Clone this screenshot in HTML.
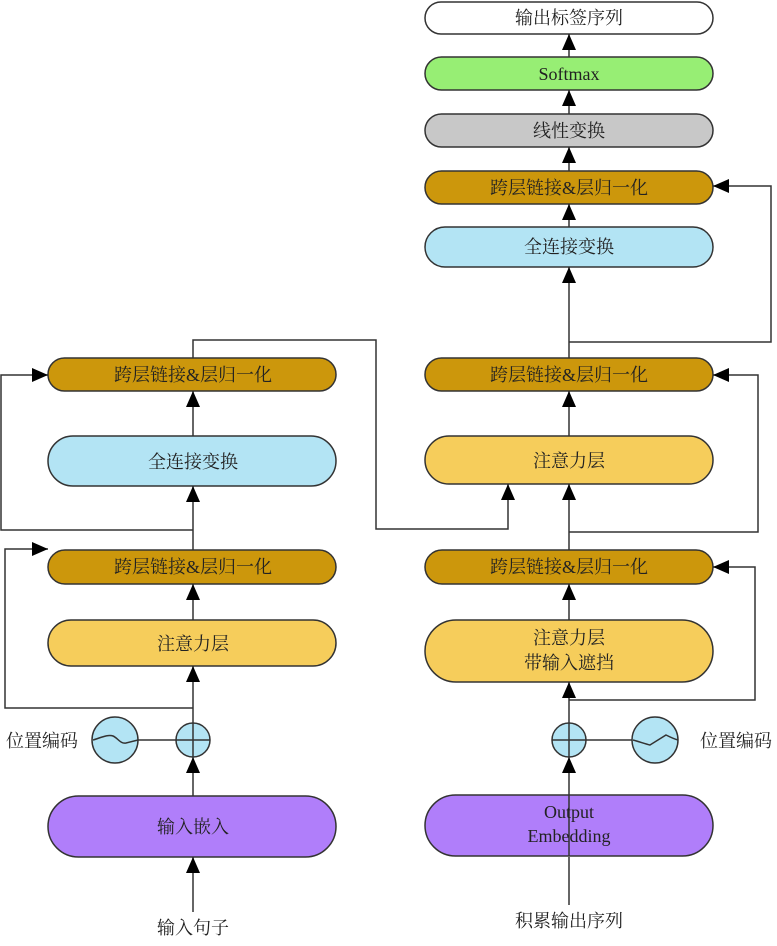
<!DOCTYPE html>
<html><head><meta charset="utf-8"><style>
html,body{margin:0;padding:0;background:#fff}
svg text{font-family:"Liberation Serif","Noto Serif CJK SC",serif;font-size:18px;fill:#222;text-anchor:middle;dominant-baseline:central}
</style></head><body>
<svg width="777" height="941" viewBox="0 0 777 941" xmlns="http://www.w3.org/2000/svg">
<defs>
<marker id="a" viewBox="0 0 16 14" refX="16" refY="7" markerWidth="16" markerHeight="14" markerUnits="userSpaceOnUse" orient="auto"><path d="M0,0L16,7L0,14Z" fill="#000"/></marker>
</defs>
<g stroke="#333" stroke-width="1.5">
<rect x="425" y="2" width="288" height="32" rx="16" fill="#fff"/>
<rect x="425" y="57" width="288" height="33" rx="16.5" fill="#97ee74"/>
<rect x="425" y="114" width="288" height="33" rx="16.5" fill="#c8c8c8"/>
<rect x="425" y="171" width="288" height="33" rx="16.5" fill="#cc970c"/>
<rect x="425" y="227" width="288" height="40" rx="20" fill="#b3e4f4"/>
<rect x="425" y="358" width="288" height="33" rx="16.5" fill="#cc970c"/>
<rect x="425" y="436" width="288" height="48" rx="24" fill="#f6cd5b"/>
<rect x="425" y="550" width="288" height="34" rx="17" fill="#cc970c"/>
<rect x="425" y="620" width="288" height="62" rx="31" fill="#f6cd5b"/>
<rect x="425" y="795" width="288" height="61" rx="30.5" fill="#b07efa"/>
<rect x="48" y="358" width="288" height="33" rx="16.5" fill="#cc970c"/>
<rect x="48" y="436" width="288" height="50" rx="25" fill="#b3e4f4"/>
<rect x="48" y="550" width="288" height="34" rx="17" fill="#cc970c"/>
<rect x="48" y="620" width="288" height="46" rx="23" fill="#f6cd5b"/>
<rect x="48" y="796" width="288" height="61" rx="30.5" fill="#b07efa"/>
</g>
<g stroke="#333" stroke-width="1.5" fill="none">
<line x1="569" y1="905" x2="569" y2="857"/>
<line x1="569" y1="856" x2="569" y2="757" marker-end="url(#a)"/>
<line x1="569" y1="724" x2="569" y2="682" marker-end="url(#a)"/>
<line x1="569" y1="620" x2="569" y2="584" marker-end="url(#a)"/>
<line x1="569" y1="550" x2="569" y2="484" marker-end="url(#a)"/>
<line x1="569" y1="436" x2="569" y2="391" marker-end="url(#a)"/>
<line x1="569" y1="358" x2="569" y2="267" marker-end="url(#a)"/>
<line x1="569" y1="227" x2="569" y2="204" marker-end="url(#a)"/>
<line x1="569" y1="171" x2="569" y2="147" marker-end="url(#a)"/>
<line x1="569" y1="114" x2="569" y2="90" marker-end="url(#a)"/>
<line x1="569" y1="57" x2="569" y2="34" marker-end="url(#a)"/>
<polyline points="569,700 755,700 755,567 713,567" marker-end="url(#a)"/>
<polyline points="569,532 758,532 758,375 713,375" marker-end="url(#a)"/>
<polyline points="569,342 771,342 771,186 713,186" marker-end="url(#a)"/>
<line x1="585" y1="740" x2="632" y2="740"/>
<line x1="193" y1="912" x2="193" y2="857" marker-end="url(#a)"/>
<line x1="193" y1="796" x2="193" y2="757" marker-end="url(#a)"/>
<line x1="193" y1="724" x2="193" y2="666" marker-end="url(#a)"/>
<line x1="193" y1="620" x2="193" y2="584" marker-end="url(#a)"/>
<line x1="193" y1="550" x2="193" y2="486" marker-end="url(#a)"/>
<line x1="193" y1="436" x2="193" y2="391" marker-end="url(#a)"/>
<polyline points="193,708 5,708 5,549 48,549" marker-end="url(#a)"/>
<polyline points="193,530 1,530 1,375 48,375" marker-end="url(#a)"/>
<polyline points="193,358 193,340 376,340 376,529 508,529 508,484" marker-end="url(#a)"/>
<line x1="138" y1="740" x2="177" y2="740"/>
</g>
<g stroke="#333" stroke-width="1.5" fill="#b3e4f4">
<circle cx="193" cy="740" r="17"/>
<circle cx="569" cy="740" r="17"/>
<circle cx="115" cy="740" r="23"/>
<circle cx="655" cy="740" r="23"/>
</g>
<g stroke="#333" stroke-width="1.5" fill="none">
<path d="M176,740H210M193,723V757"/>
<path d="M552,740H586M569,723V757"/>
<path d="M93,740 C100,738 108,734 113,736 C118,738 120,744 126,743 C130,742 134,741 138,740"/>
<path d="M633,740 C640,742 646,744 650,745 L666,735 C670,737 674,739 678,740"/>
</g>
<text x="569" y="18">输出标签序列</text>
<text x="569" y="74">Softmax</text>
<text x="569" y="131">线性变换</text>
<text x="569" y="188">跨层链接&amp;层归一化</text>
<text x="569" y="247">全连接变换</text>
<text x="569" y="375">跨层链接&amp;层归一化</text>
<text x="569" y="461">注意力层</text>
<text x="569" y="567">跨层链接&amp;层归一化</text>
<text x="569" y="638">注意力层</text>
<text x="569" y="663">带输入遮挡</text>
<text x="569" y="812">Output</text>
<text x="569" y="836">Embedding</text>
<text x="569" y="921">积累输出序列</text>
<text x="736" y="741">位置编码</text>
<text x="193" y="375">跨层链接&amp;层归一化</text>
<text x="193" y="462">全连接变换</text>
<text x="193" y="567">跨层链接&amp;层归一化</text>
<text x="193" y="644">注意力层</text>
<text x="193" y="827">输入嵌入</text>
<text x="193" y="928">输入句子</text>
<text x="42" y="741">位置编码</text>
</svg>
</body></html>
